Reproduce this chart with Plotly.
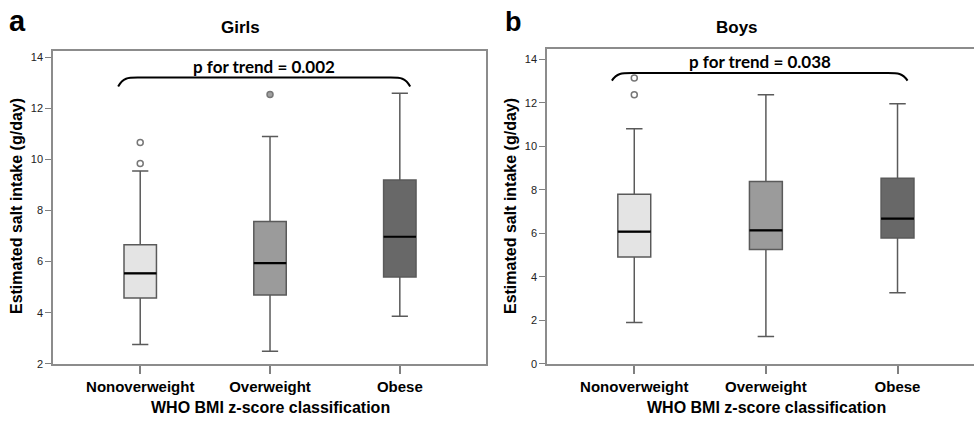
import plotly.graph_objects as go

categories = ["Nonoverweight", "Overweight", "Obese"]
cat_pos = [0, 1, 2]

# Girls (panel a)
girls_q1 = [4.57, 4.69, 5.40]
girls_median = [5.54, 5.94, 6.97]
girls_q3 = [6.66, 7.57, 9.19]
girls_low = [2.75, 2.49, 3.86]
girls_high = [9.54, 10.89, 12.59]
girls_out_x = [0, 0, 1]
girls_out_y = [10.66, 9.84, 12.54]
girls_out_filled = [False, False, True]

# Boys (panel b)
boys_q1 = [4.91, 5.26, 5.79]
boys_median = [6.08, 6.14, 6.68]
boys_q3 = [7.80, 8.39, 8.54]
boys_low = [1.90, 1.25, 3.27]
boys_high = [10.81, 12.38, 11.96]
boys_out_x = [0, 0]
boys_out_y = [13.15, 12.38]
boys_out_filled = [False, False]

girls_p_text = "p for trend = 0.002"
boys_p_text = "p for trend = 0.038"
# bracket: [x_left, x_right, y_top, y_end]
girls_bracket = [-0.17, 2.08, 13.2, 12.85]
boys_bracket = [-0.17, 2.076, 13.38, 13.03]

fills = ["#e4e4e4", "#9b9b9b", "#686868"]
BOX_W = 0.25
W, H = 974, 423

fig = go.Figure()


def add_panel(xa, ya, q1, med, q3, lo, hi, ox, oy, ofill):
    for i, c in enumerate(cat_pos):
        fig.add_trace(go.Box(
            x=[c], q1=[q1[i]], median=[med[i]], q3=[q3[i]],
            lowerfence=[lo[i]], upperfence=[hi[i]],
            width=BOX_W, whiskerwidth=0.5,
            fillcolor=fills[i], line=dict(color="#5a5a5a", width=1.5),
            boxpoints=False, showlegend=False, hoverinfo="skip",
            xaxis=xa, yaxis=ya))
    mx, my = [], []
    for i, c in enumerate(cat_pos):
        mx += [c - BOX_W / 2, c + BOX_W / 2, None]
        my += [med[i], med[i], None]
    fig.add_trace(go.Scatter(x=mx, y=my, mode="lines",
                             line=dict(color="black", width=2.2),
                             showlegend=False, hoverinfo="skip",
                             xaxis=xa, yaxis=ya))
    fig.add_trace(go.Scatter(
        x=ox, y=oy, mode="markers",
        marker=dict(symbol=["circle" if f else "circle-open" for f in ofill],
                    size=6, color=["#a0a0a0" if f else "#777777" for f in ofill],
                    line=dict(color="#777777", width=1.5)),
        showlegend=False, hoverinfo="skip", xaxis=xa, yaxis=ya))


add_panel("x", "y", girls_q1, girls_median, girls_q3, girls_low, girls_high,
          girls_out_x, girls_out_y, girls_out_filled)
add_panel("x2", "y2", boys_q1, boys_median, boys_q3, boys_low, boys_high,
          boys_out_x, boys_out_y, boys_out_filled)


def bracket_path(b):
    x0, x1, yt, ye = b
    dx = 0.15
    return (f"M {x0},{ye} C {x0 + 0.25*dx},{yt} {x0 + 0.5*dx},{yt} {x0 + dx},{yt} "
            f"L {x1 - dx},{yt} C {x1 - 0.5*dx},{yt} {x1 - 0.25*dx},{yt} {x1},{ye}")


shapes = [
    dict(type="path", path=bracket_path(girls_bracket), xref="x", yref="y",
         line=dict(color="black", width=2)),
    dict(type="path", path=bracket_path(boys_bracket), xref="x2", yref="y2",
         line=dict(color="black", width=2)),
]

FONT = "Liberation Sans, Arial, sans-serif"
bold = lambda s: dict(family=FONT, size=s, color="black", weight="bold")
pfont = dict(family="Lato, sans-serif", size=17, color="black", weight="bold")


def pann(text, x, y, **kw):
    return dict(text=text, x=x, y=y, showarrow=False, xanchor="center",
                yanchor="middle", **kw)


annotations = [
    pann(girls_p_text, (girls_bracket[0] + girls_bracket[1]) / 2, girls_bracket[2],
         xref="x", yref="y", font=pfont, yshift=11),
    pann(boys_p_text, (boys_bracket[0] + boys_bracket[1]) / 2, boys_bracket[2],
         xref="x2", yref="y2", font=pfont, yshift=11),
    pann("Girls", 240 / W, 1 - 28 / H, xref="paper", yref="paper", font=bold(17)),
    pann("Boys", 737 / W, 1 - 28 / H, xref="paper", yref="paper", font=bold(17)),
    pann("a", 17 / W, 1 - 21 / H, xref="paper", yref="paper", font=bold(29)),
    pann("b", 513 / W, 1 - 22 / H, xref="paper", yref="paper", font=bold(27)),
    pann("Estimated salt intake (g/day)", 16 / W, 1 - 209 / H,
         xref="paper", yref="paper", textangle=-90, font=bold(16)),
    pann("Estimated salt intake (g/day)", 510 / W, 1 - 209 / H,
         xref="paper", yref="paper", textangle=-90, font=bold(16)),
    pann("WHO BMI z-score classification", 270 / W, 1 - 413 / H,
         xref="paper", yref="paper", font=bold(16)),
    pann("WHO BMI z-score classification", 766 / W, 1 - 413 / H,
         xref="paper", yref="paper", font=bold(16)),
]

xcommon = dict(tickvals=cat_pos, ticktext=categories, ticks="outside", ticklen=8,
               tickcolor="#808080", tickwidth=1.5, showline=True, linecolor="#8c8c8c",
               linewidth=1.5, mirror=True, showgrid=False, zeroline=False,
               tickfont=bold(15), fixedrange=True)
ycommon = dict(ticks="outside", ticklen=6, tickcolor="#808080", tickwidth=1.2,
               showline=True, linecolor="#8c8c8c", linewidth=1.5, showgrid=False,
               zeroline=False, tickfont=dict(family=FONT, size=11, color="#222222"),
               dtick=2, tick0=0, fixedrange=True)

fig.update_layout(
    width=W, height=H, margin=dict(l=0, r=0, t=0, b=0),
    paper_bgcolor="white", plot_bgcolor="white", boxmode="overlay",
    xaxis=dict(xcommon, domain=[53 / W, 486 / W], range=[-0.672, 2.664], anchor="y"),
    yaxis=dict(ycommon, domain=[1 - 369 / H, 1 - 52 / H], range=[2, 14.23],
               mirror=True, anchor="x"),
    xaxis2=dict(xcommon, domain=[547 / W, 1.0], range=[-0.663, 2.581], anchor="y2"),
    yaxis2=dict(ycommon, domain=[1 - 369 / H, 1 - 50 / H], range=[0, 14.47],
                mirror=False, anchor="x2"),
    shapes=shapes, annotations=annotations,
)

post = (
    "document.documentElement.style.margin='0';"
    "document.body.style.margin='0';"
    "document.documentElement.style.overflow='hidden';"
    "document.body.style.overflow='hidden';"
    "var d=document.getElementById('{plot_id}');"
    "d.style.position='fixed';d.style.top='0px';d.style.left='0px';"
)

fig.write_html("out.html", config={"displayModeBar": False}, post_script=post)
